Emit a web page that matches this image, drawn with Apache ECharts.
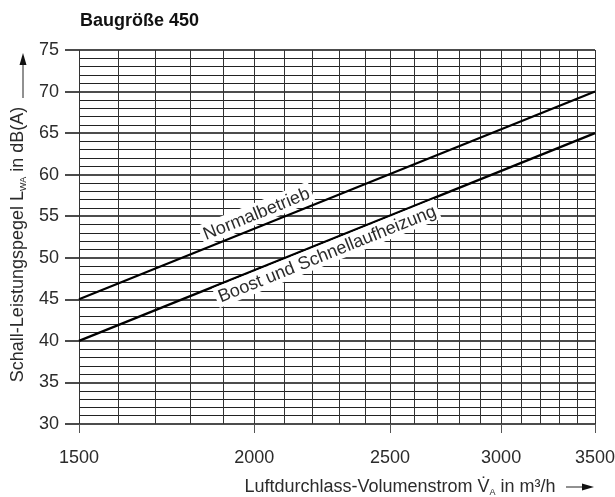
<!DOCTYPE html>
<html>
<head>
<meta charset="utf-8">
<script src="https://cdn.jsdelivr.net/npm/echarts@6/dist/echarts.min.js"></script>
<style>
  html, body { margin: 0; padding: 0; background: #fff; }
  #chart { width: 615px; height: 497px; }
</style>
</head>
<body>
<div id="chart"></div>
<script>
// Sound power level over air volume flow, size 450
const chartTitle = 'Baugröße 450';

// x axis (logarithmic): labelled ticks and the 100 m³/h grid
const flowTicks = [1500, 2000, 2500, 3000, 3500];
const flowGrid = [1500, 1600, 1700, 1800, 1900, 2000, 2100, 2200, 2300, 2400, 2500,
                  2600, 2700, 2800, 2900, 3000, 3100, 3200, 3300, 3400, 3500];

// y axis range in dB(A)
const levelMin = 30;
const levelMax = 75;
const levelStep = 5;

// curves
const normalName = 'Normalbetrieb';
const normalFlow = [1500, 3500];
const normalLevel = [45, 70];

const boostName = 'Boost und Schnellaufheizung';
const boostFlow = [1500, 3500];
const boostLevel = [40, 65];

const FONT = '"Liberation Sans", Arial, Helvetica, sans-serif';
const TEXT = '#2b2b2b';
const CAPTION_FONT = '18px ' + FONT;

function pairs(xs, ys) {
  return xs.map((x, i) => [x, ys[i]]);
}

function curve(name, xs, ys) {
  return {
    name: name,
    type: 'line',
    xAxisIndex: 0,
    yAxisIndex: 0,
    data: pairs(xs, ys),
    symbol: 'none',
    silent: true,
    lineStyle: { color: '#000', width: 2.2 },
    z: 3
  };
}

// text width helper for the caption boxes
const measureCtx = document.createElement('canvas').getContext('2d');
function textWidth(str) {
  measureCtx.font = CAPTION_FONT;
  return measureCtx.measureText(str).width;
}

// Curve captions written along each line on a white box.
// side: 1 = above the line, -1 = below; along / gap in pixels.
const captions = [
  { text: normalName, xs: normalFlow, ys: normalLevel, side: 1, along: 137, gap: 3 },
  { text: boostName, xs: boostFlow, ys: boostLevel, side: -1, along: 143, gap: 1 }
];

const captionSeries = {
  type: 'custom',
  xAxisIndex: 0,
  yAxisIndex: 0,
  silent: true,
  z: 10,
  encode: { x: [0, 2], y: [1, 3] },
  data: captions.map(c => [c.xs[0], c.ys[0], c.xs[c.xs.length - 1], c.ys[c.ys.length - 1]]),
  renderItem: function (params, api) {
    const c = captions[params.dataIndex];
    const p0 = api.coord([api.value(0), api.value(1)]);
    const p1 = api.coord([api.value(2), api.value(3)]);
    const dx = p1[0] - p0[0];
    const dy = p1[1] - p0[1];
    const len = Math.sqrt(dx * dx + dy * dy);
    const ux = dx / len, uy = dy / len;      // along the line
    const nx = uy, ny = -ux;                 // normal pointing above the line
    const x = p0[0] + ux * c.along + nx * c.gap * c.side;
    const y = p0[1] + uy * c.along + ny * c.gap * c.side;
    const w = textWidth(c.text) + 6;
    const h = 21;
    const top = c.side > 0 ? -h : 0;
    return {
      type: 'group',
      x: x,
      y: y,
      rotation: Math.atan2(-dy, dx),
      children: [
        {
          type: 'rect',
          shape: { x: 0, y: top, width: w, height: h },
          style: { fill: '#fff' }
        },
        {
          type: 'text',
          style: {
            text: c.text,
            x: 3,
            y: top + h / 2 + 1,
            fill: TEXT,
            font: CAPTION_FONT,
            align: 'left',
            verticalAlign: 'middle'
          }
        }
      ]
    };
  }
};

const chart = echarts.init(document.getElementById('chart'), null, { renderer: 'canvas' });

chart.setOption({
  animation: false,
  backgroundColor: '#fff',
  title: {
    text: chartTitle,
    left: 80,
    top: 12,
    padding: 0,
    textStyle: { fontFamily: FONT, fontSize: 18, fontWeight: 'bold', color: '#111' }
  },
  grid: { left: 79, right: 20, top: 50, bottom: 73, outerBoundsMode: 'none', containLabel: false },
  xAxis: [
    {
      type: 'log',
      min: flowTicks[0],
      max: flowTicks[flowTicks.length - 1],
      position: 'bottom',
      axisLine: { show: false },
      axisTick: { show: true, customValues: flowTicks, length: 9, lineStyle: { color: '#555', width: 1 } },
      axisLabel: {
        customValues: flowTicks,
        margin: 25,
        fontFamily: FONT,
        fontSize: 18,
        color: TEXT,
        formatter: v => String(Math.round(v))
      },
      splitLine: { show: false },
      name: '{pad|}Luftdurchlass-Volumenstrom V\u0307{sub|A} in m³/h',
      nameLocation: 'middle',
      nameGap: 53,
      nameTextStyle: {
        fontFamily: FONT,
        fontSize: 18,
        color: TEXT,
        rich: {
          pad: { width: 126 },
          sub: { fontFamily: FONT, fontSize: 9, color: TEXT, verticalAlign: 'bottom', lineHeight: 20 }
        }
      }
    },
    {
      type: 'log',
      min: flowGrid[0],
      max: flowGrid[flowGrid.length - 1],
      position: 'top',
      axisLine: { show: false },
      axisTick: { show: false, customValues: flowGrid },
      axisLabel: { show: false },
      splitLine: { show: true, lineStyle: { color: '#333', width: 1 } }
    }
  ],
  yAxis: {
    type: 'value',
    min: levelMin,
    max: levelMax,
    interval: levelStep,
    axisLine: { show: false },
    axisTick: { show: true, length: 14, lineStyle: { color: '#111', width: 1.5 } },
    axisLabel: { margin: 20, fontFamily: FONT, fontSize: 18, color: TEXT },
    splitLine: { show: true, lineStyle: { color: '#111', width: 1.6 } },
    minorTick: { show: false, splitNumber: 5 },
    minorSplitLine: { show: true, lineStyle: { color: '#222', width: 1 } },
    name: 'Schall-Leistungspegel L{sub|WA} in dB(A){pad|}',
    nameLocation: 'middle',
    nameRotate: 90,
    nameGap: 25,
    nameTextStyle: {
      fontFamily: FONT,
      fontSize: 18,
      color: TEXT,
      rich: {
        pad: { width: 15 },
        sub: { fontFamily: FONT, fontSize: 9, color: TEXT, verticalAlign: 'bottom', lineHeight: 20 }
      }
    }
  },
  graphic: [
    // arrow beside the y-axis title
    { type: 'line', shape: { x1: 23, y1: 98, x2: 23, y2: 62 }, style: { stroke: '#222', lineWidth: 1 }, silent: true },
    { type: 'polygon', shape: { points: [[23, 53], [19.5, 65], [26.5, 65]] }, style: { fill: '#111' }, silent: true },
    // arrow after the x-axis title
    { type: 'line', shape: { x1: 566, y1: 487, x2: 584, y2: 487 }, style: { stroke: '#222', lineWidth: 1 }, silent: true },
    { type: 'polygon', shape: { points: [[594, 487], [582, 483.5], [582, 490.5]] }, style: { fill: '#111' }, silent: true }
  ],
  series: [
    curve(normalName, normalFlow, normalLevel),
    curve(boostName, boostFlow, boostLevel),
    captionSeries
  ]
});
</script>
</body>
</html>
